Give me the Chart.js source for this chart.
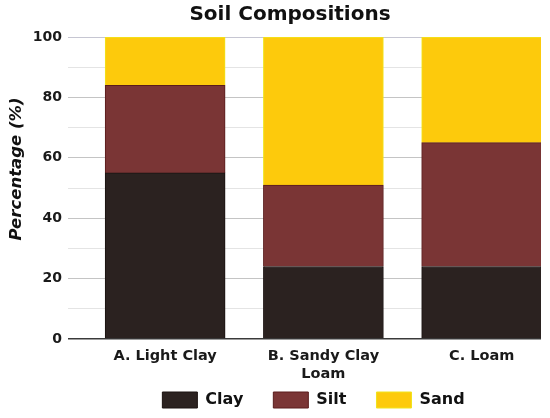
<!DOCTYPE html>
<html>
<head>
<meta charset="utf-8">
<script src="https://cdn.jsdelivr.net/npm/chart.js@4"></script>
<style>
  html, body { margin: 0; padding: 0; background: #ffffff; }
  #wrap { width: 550px; height: 418px; position: relative; }
</style>
</head>
<body>
<div id="wrap"><canvas id="c" width="550" height="418"></canvas></div>
<script>
const chartTitle = 'Soil Compositions';
const yAxisTitle = 'Percentage (%)';
const categories = ['A. Light Clay', 'B. Sandy Clay Loam', 'C. Loam'];
const tickLabels = ['A. Light Clay', ['B. Sandy Clay', 'Loam'], 'C. Loam'];
const clay = [55, 24, 24];
const silt = [29, 27, 41];
const sand = [16, 49, 35];
const yTicks = [0, 20, 40, 60, 80, 100];

const FONT = "'DejaVu Sans', sans-serif";

const toPoints = arr => arr.map((v, i) => ({ x: i, y: v }));

const titlesPlugin = {
  id: 'titlesPlugin',
  afterLayout(chart) {
    // let the two-line category labels extend into the legend's top padding
    const xs = chart.scales.x;
    if (xs) { xs.bottom = chart.height; }
  },
  afterDraw(chart) {
    const ctx = chart.ctx;
    ctx.save();
    ctx.fillStyle = '#111111';
    ctx.textAlign = 'center';
    ctx.textBaseline = 'middle';
    ctx.font = "bold 20px " + FONT;
    ctx.fillText(chartTitle, 290, 15);
    ctx.translate(17, 169);
    ctx.rotate(-Math.PI / 2);
    ctx.font = "italic bold 16.5px " + FONT;
    ctx.fillText(yAxisTitle, 0, 0);
    ctx.restore();
  }
};

new Chart(document.getElementById('c'), {
  type: 'bar',
  data: {
    datasets: [
      { label: 'Clay', data: toPoints(clay), backgroundColor: '#2b2220', borderColor: '#1a1210', borderWidth: 1 },
      { label: 'Silt', data: toPoints(silt), backgroundColor: '#7a3535', borderColor: '#5a1c1c', borderWidth: 1 },
      { label: 'Sand', data: toPoints(sand), backgroundColor: '#fdca0c', borderColor: '#f0e41c', borderWidth: 1 }
    ]
  },
  options: {
    responsive: false,
    animation: false,
    devicePixelRatio: 1,
    layout: { padding: { top: 37, right: 9, bottom: 0, left: 0 } },
    datasets: { bar: { barThickness: 120 } },
    scales: {
      x: {
        type: 'linear',
        stacked: true,
        offset: false,
        min: -0.5,
        max: 2.375,
        grid: { display: false, drawTicks: false, offset: false },
        border: { display: false },
        afterBuildTicks: scale => { scale.ticks = categories.map((_, i) => ({ value: i })); },
        afterFit: scale => { scale.height = 23; },
        ticks: {
          autoSkip: false,
          maxRotation: 0,
          padding: 9,
          color: '#1a1a1a',
          font: { family: FONT, size: 14.5, weight: 'bold' },
          callback: v => tickLabels[v]
        }
      },
      y: {
        stacked: true,
        min: 0,
        max: 100,
        afterFit: scale => { scale.width = 86; },
        border: { display: false },
        grid: {
          tickLength: 18,
          lineWidth: ctx => (ctx.tick && ctx.tick.value === 0) ? 1.5 : 1,
          color: ctx => {
            const v = ctx.tick ? ctx.tick.value : 0;
            if (v === 0) return '#3a3a3a';
            if (v === 100) return '#c6c6d2';
            if (yTicks.includes(v)) return '#c4c4c4';
            return '#e4e4e4';
          }
        },
        ticks: {
          stepSize: 10,
          padding: 6,
          color: '#1a1a1a',
          font: { family: FONT, size: 14, weight: 'bold' },
          callback: v => yTicks.includes(v) ? String(v) : ''
        }
      }
    },
    plugins: {
      title: { display: false },
      tooltip: { enabled: false },
      legend: {
        position: 'bottom',
        fullSize: false,
        labels: {
          boxWidth: 35,
          boxHeight: 16,
          padding: 30,
          color: '#111111',
          font: { family: FONT, size: 16, weight: 'bold' }
        }
      }
    }
  },
  plugins: [titlesPlugin]
});
</script>
</body>
</html>
